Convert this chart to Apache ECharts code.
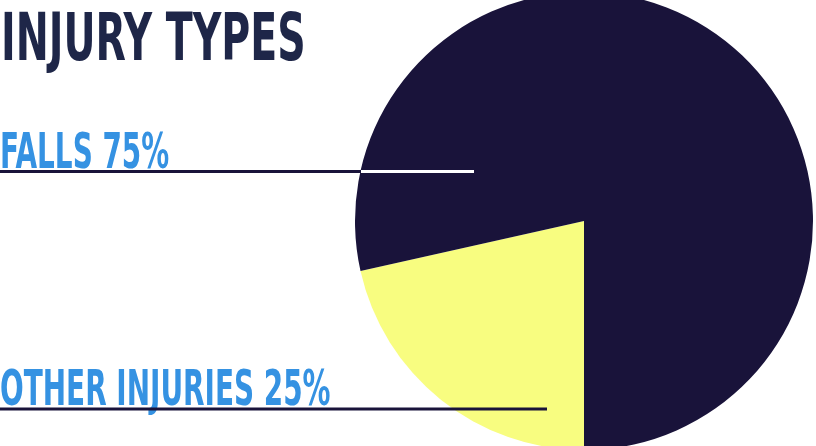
<!DOCTYPE html>
<html><head><meta charset="utf-8">
<script src="https://cdn.jsdelivr.net/npm/echarts@6/dist/echarts.min.js"></script>
<style>html,body{margin:0;padding:0;background:#fff}#c{width:816px;height:446px}</style>
</head><body><div id="c"></div>
<script>
// Data
const categories = ['OTHER INJURIES', 'FALLS'];
const sliceValues = [21.5, 78.5];          // slice sizes as drawn in the picture
const labelPercents = [25, 75];            // percentages printed in the labels
const title = 'INJURY TYPES';

const DARK = '#19133a';
const YELLOW = '#f8fd80';
const BLUE = '#3592e2';
const TITLE = '#1e2648';
const FONT = '"Liberation Sans Narrow","DejaVu Sans Condensed","Roboto Condensed",sans-serif';

const chart = echarts.init(document.getElementById('c'), null, {renderer: 'canvas'});

function txt(text, x, y, size, color, sx) {
  return {type: 'text', x: x, y: y, scaleX: sx, z: 20,
    style: {text: text, fill: color, font: 'bold ' + size + 'px ' + FONT, textVerticalAlign: 'top'}};
}
function line(x1, x2, y, color, z) {
  return {type: 'line', z: z, shape: {x1: x1, y1: y, x2: x2, y2: y},
    style: {stroke: color, lineWidth: 3}};
}

chart.setOption({
  animation: false,
  backgroundColor: '#ffffff',
  series: [{
    type: 'pie',
    center: [584, 221],
    radius: [0, 229],
    startAngle: 270,
    clockwise: true,
    label: {show: false},
    labelLine: {show: false},
    emphasis: {disabled: true},
    itemStyle: {borderWidth: 0},
    data: categories.map((c, i) => ({
      name: c, value: sliceValues[i],
      itemStyle: {color: i === 0 ? YELLOW : DARK}
    }))
  }],
  graphic: [
    txt(title, 1, 10, 66, TITLE, 0.665),
    txt(categories[1] + ' ' + labelPercents[1] + '%', 0, 130, 50, BLUE, 0.62),
    txt(categories[0] + ' ' + labelPercents[0] + '%', 0, 367, 50, BLUE, 0.62),
    line(0, 474, 171.5, DARK, 0),
    line(361, 474, 171.5, '#ffffff', 30),
    line(0, 547, 409, DARK, 30)
  ]
});
</script></body></html>
